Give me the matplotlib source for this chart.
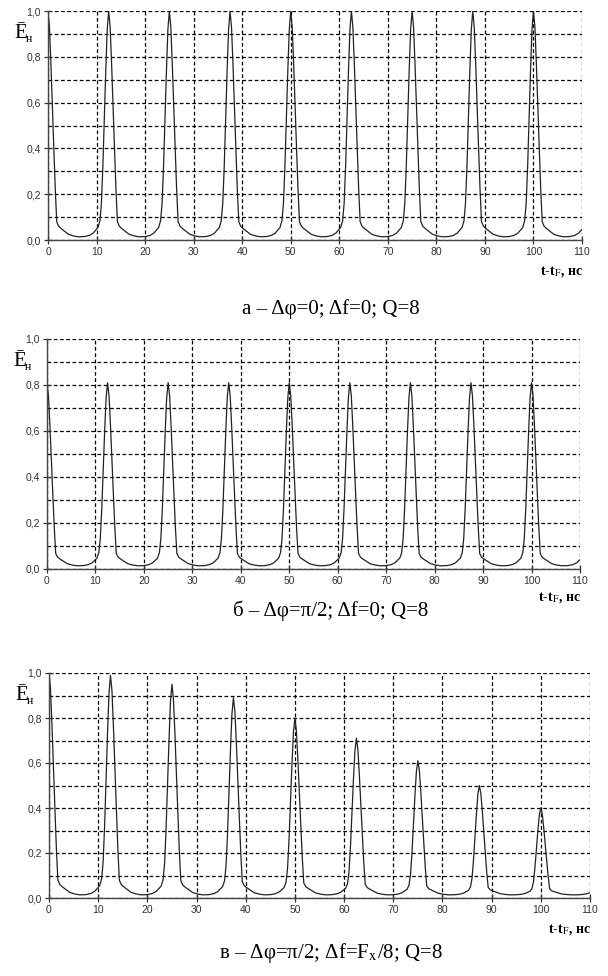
import matplotlib
matplotlib.use("Agg")
import matplotlib.pyplot as plt
import numpy as np
from matplotlib.ticker import MultipleLocator, FuncFormatter

# ---- data ----
PEAK_TIMES = [0, 12.5, 25, 37.5, 50, 62.5, 75, 87.5, 100, 112.5]
PEAKS_A = [1.0, 1.0, 1.0, 1.0, 1.0, 1.0, 1.0, 1.0, 1.0, 1.0]
PEAKS_B = [0.81, 0.81, 0.81, 0.81, 0.81, 0.81, 0.81, 0.81, 0.81, 0.81]
PEAKS_C = [1.0, 0.99, 0.95, 0.89, 0.80, 0.71, 0.61, 0.50, 0.40, 0.30]

# normalised single-pulse profile (offset from peak, ns ; value)
PULSE_DT = [-6.25, -5.0, -4.0, -3.2, -2.6, -2.2, -1.8, -1.5, -1.2, -0.9, -0.6, -0.3,
            0.0, 0.3, 0.6, 0.9, 1.2, 1.5, 1.8, 2.2, 2.7, 3.3, 4.2, 5.2]
PULSE_VAL = [0.014, 0.015, 0.02, 0.03, 0.045, 0.055, 0.085, 0.16, 0.32, 0.53, 0.74, 0.92,
             1.0, 0.93, 0.77, 0.58, 0.40, 0.22, 0.08, 0.06, 0.05, 0.04, 0.025, 0.018]
FLOOR = 0.014

CAPTIONS = [r"а – Δφ=0; Δf=0; Q=8",
            r"б – Δφ=π/2; Δf=0; Q=8",
            r"в – Δφ=π/2; Δf=F$_{\mathrm{x}}$/8; Q=8"]

X_TICKS = list(range(0, 111, 10))
Y_TICKS = [0.0, 0.2, 0.4, 0.6, 0.8, 1.0]


def build_curve(heights):
    ts, vs = [], []
    for tp, h in zip(PEAK_TIMES, heights):
        for dt, p in zip(PULSE_DT, PULSE_VAL):
            ts.append(tp + dt)
            vs.append(FLOOR + (h - FLOOR) / (1 - FLOOR) * (p - FLOOR))
    ts = np.array(ts)
    vs = np.array(vs)
    m = (ts >= 0) & (ts <= 110)
    return ts[m], vs[m]


plt.rcParams['mathtext.fontset'] = 'stix'
fig = plt.figure(figsize=(6.08, 9.76), dpi=100)

# axes rectangles in pixels: left, right, top, bottom
rects = [(48, 582, 11, 240), (47, 580, 339, 569), (49, 590, 673, 898)]
W, H = 608, 976
caption_y = [309, 611, 953]
xlabel_y = [272, 598, 930]
peaks_list = [PEAKS_A, PEAKS_B, PEAKS_C]

for i, ((l, r, t, b), peaks) in enumerate(zip(rects, peaks_list)):
    ax = fig.add_axes([l / W, 1 - b / H, (r - l) / W, (b - t) / H])
    tt, vv = build_curve(peaks)
    ax.plot(tt, vv, color='#222222', lw=0.9)
    ax.set_xlim(0, 110)
    ax.set_ylim(0, 1.0)
    ax.set_xticks(X_TICKS)
    ax.set_yticks(Y_TICKS)
    ax.yaxis.set_minor_locator(MultipleLocator(0.1))
    ax.yaxis.set_major_formatter(FuncFormatter(lambda v, p: f"{v:.1f}".replace('.', ',')))
    ax.grid(True, which='both', axis='y', color='black', ls=(0, (3, 2)), lw=0.9)
    ax.grid(True, which='major', axis='x', color='black', ls=(0, (3, 2)), lw=0.9)
    ax.tick_params(axis='both', which='major', direction='inout', length=6, width=0.9,
                   labelsize=7.5, colors='#333333', pad=2)
    ax.tick_params(axis='y', which='minor', length=0)
    for lab in ax.get_xticklabels() + ax.get_yticklabels():
        lab.set_fontfamily('Liberation Sans')
    for s in ['top', 'right']:
        ax.spines[s].set_visible(False)
    for s in ['left', 'bottom']:
        ax.spines[s].set_color('#444444')
        ax.spines[s].set_linewidth(1.0)
    ax.set_axisbelow(True)

    # y label  E-bar with subscript н
    fig.text((l - 34) / W, 1 - (t + 23) / H, "Ē", fontsize=15, family='Liberation Serif',
             ha='left', va='center')
    fig.text((l - 22) / W, 1 - (t + 28) / H, "н", fontsize=8.5, family='Liberation Serif',
             ha='left', va='center')

    # x label
    fig.text((r + 1) / W, 1 - xlabel_y[i] / H, r"t-t$_{\mathrm{F}}$, нс", fontsize=10,
             family='Liberation Serif', weight='bold', ha='right', va='center')

    # caption
    fig.text(331 / W, 1 - caption_y[i] / H, CAPTIONS[i], fontsize=15,
             family='Liberation Serif', ha='center', va='center')

fig.savefig("out.png", dpi=100)
